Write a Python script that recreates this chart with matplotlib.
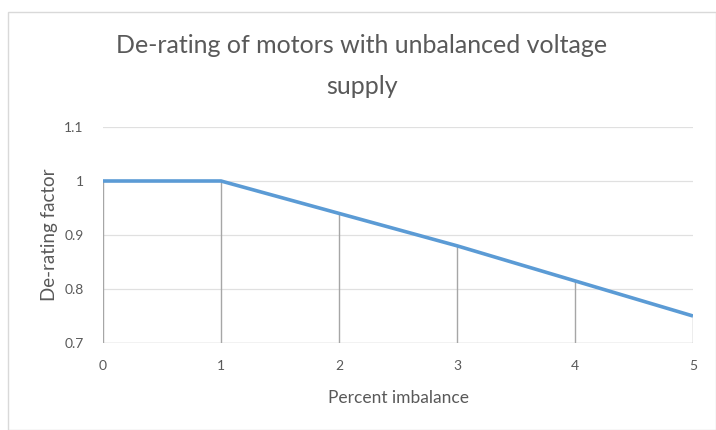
import matplotlib
matplotlib.use("Agg")
import matplotlib.pyplot as plt
from matplotlib.patches import Rectangle

imbalance = [0, 1, 2, 3, 4, 5]
derating = [1.0, 1.0, 0.94, 0.88, 0.815, 0.75]
x_ticks = [0, 1, 2, 3, 4, 5]
y_ticks = [0.7, 0.8, 0.9, 1.0, 1.1]
y_tick_labels = ["0.7", "0.8", "0.9", "1", "1.1"]

plt.rcParams['font.family'] = ['Lato', 'DejaVu Sans']
text_color = "#595959"

fig = plt.figure(figsize=(7.16, 4.30), dpi=100)
fig.patch.set_facecolor("white")
fig.patches.append(Rectangle((8/716, 0.0), 1 - 8/716, 1 - 12/430, transform=fig.transFigure,
                             fill=False, edgecolor="#d9d9d9", linewidth=1.0))
ax = fig.add_axes([103/716, 1 - 343/430, 590/716, 216/430])

ax.set_xlim(0, 5)
ax.set_ylim(0.7, 1.1)
ax.set_xticks(x_ticks)
ax.set_yticks(y_ticks)
ax.set_yticklabels(y_tick_labels)
for yv in y_ticks[1:]:
    ax.axhline(yv, color="#e0e0e0", linewidth=0.9, zorder=1)
ax.axhline(0.7, color="#bfbfbf", linewidth=1.0, zorder=2)

ax.vlines(imbalance, 0.7, derating, colors="#a6a6a6", linewidth=1.0, zorder=2)
ax.plot(imbalance, derating, color="#5B9BD5", linewidth=2.6, solid_capstyle="butt", zorder=3)

for s in ax.spines.values():
    s.set_visible(False)
ax.tick_params(axis="both", length=0, colors=text_color, labelsize=10)
ax.tick_params(axis="x", pad=12)
ax.tick_params(axis="y", pad=14)

ax.set_xlabel("Percent imbalance", color=text_color, fontsize=12.5, labelpad=13)
ax.set_ylabel("De-rating factor", color=text_color, fontsize=13.5, labelpad=4)

fig.text(0.505, 1 - 66/430, "De-rating of motors with unbalanced voltage\nsupply",
         ha="center", va="center", fontsize=18, color=text_color, linespacing=1.95)

fig.savefig("out.png", dpi=100)
